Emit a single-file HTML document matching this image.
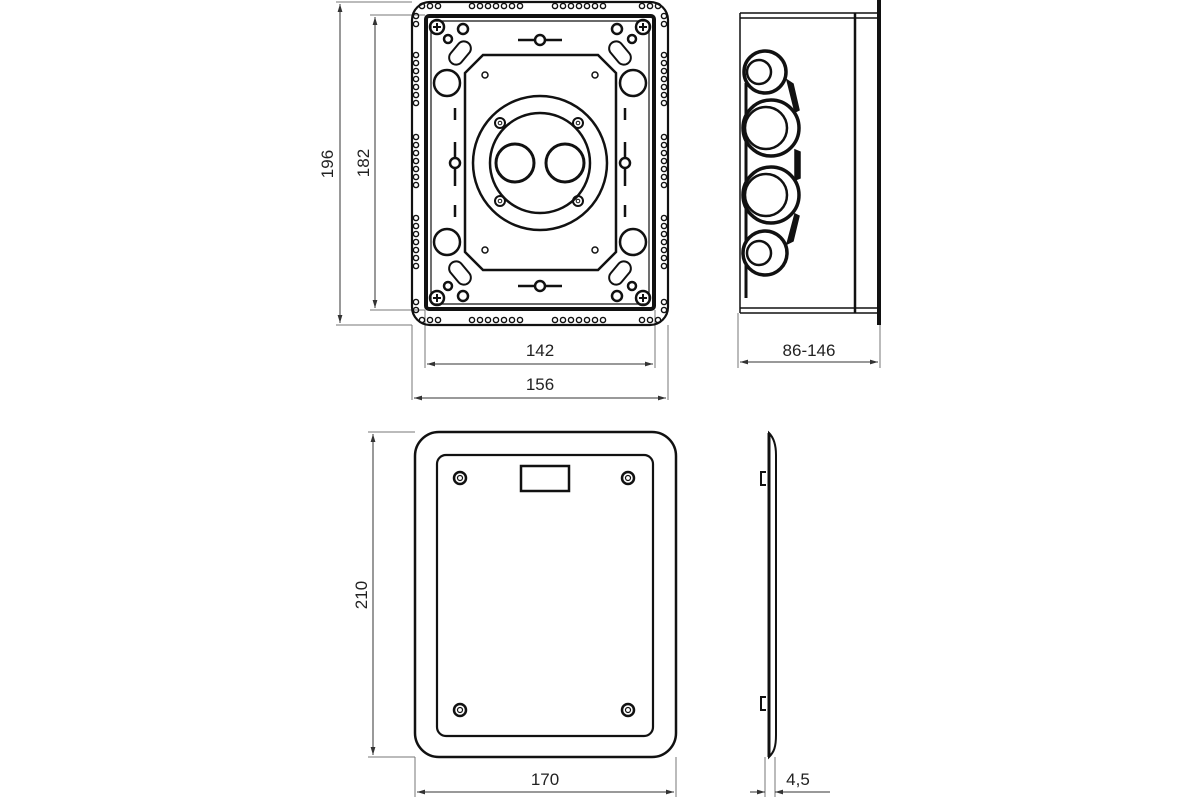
<!DOCTYPE html>
<html><head><meta charset="utf-8"><style>
html,body{margin:0;padding:0;background:#fff}
svg{display:block}
text{font-family:"Liberation Sans",sans-serif;font-size:17px;fill:#222}
</style></head><body>
<svg width="1200" height="800" viewBox="0 0 1200 800" xmlns="http://www.w3.org/2000/svg">
<defs>
<marker id="a" viewBox="0 0 10 10" refX="10" refY="5" markerWidth="8" markerHeight="8" orient="auto-start-reverse"><path d="M0,2 L10,5 L0,8z" fill="#333"/></marker>
<g id="h7" fill="none" stroke="#111" stroke-width="1.4"><circle cx="0" cy="0" r="2.6"/><circle cx="8" cy="0" r="2.6"/><circle cx="16" cy="0" r="2.6"/><circle cx="24" cy="0" r="2.6"/><circle cx="32" cy="0" r="2.6"/><circle cx="40" cy="0" r="2.6"/><circle cx="48" cy="0" r="2.6"/></g>
<g id="v7" fill="none" stroke="#111" stroke-width="1.4"><circle cx="0" cy="0" r="2.6"/><circle cx="0" cy="8" r="2.6"/><circle cx="0" cy="16" r="2.6"/><circle cx="0" cy="24" r="2.6"/><circle cx="0" cy="32" r="2.6"/><circle cx="0" cy="40" r="2.6"/><circle cx="0" cy="48" r="2.6"/></g>
<g id="scr"><circle r="7" fill="none" stroke="#111" stroke-width="2.5"/><path d="M-4,0h8M0,-4v8" stroke="#111" stroke-width="2"/></g>
</defs>

<!-- dimension lines -->
<g stroke="#777" stroke-width="1" fill="none">
<path d="M336,2h76M336,325h76M370,15h55M370,310h55"/>
<path d="M412,325v75M668,325v75M425,310v58M655,310v58M738,313v55M880,325v43"/>
<path d="M415,757v40M676,757v40M368,432h47M368,757h47M765,757v40M775,757v40"/>
</g>
<g stroke="#333" stroke-width="1" fill="none">
<line x1="340" y1="4" x2="340" y2="323" marker-start="url(#a)" marker-end="url(#a)"/>
<line x1="375" y1="17" x2="375" y2="308" marker-start="url(#a)" marker-end="url(#a)"/>
<line x1="427" y1="364" x2="653" y2="364" marker-start="url(#a)" marker-end="url(#a)"/>
<line x1="414" y1="398" x2="666" y2="398" marker-start="url(#a)" marker-end="url(#a)"/>
<line x1="740" y1="362" x2="878" y2="362" marker-start="url(#a)" marker-end="url(#a)"/>
<line x1="373" y1="434" x2="373" y2="755" marker-start="url(#a)" marker-end="url(#a)"/>
<line x1="417" y1="792" x2="674" y2="792" marker-start="url(#a)" marker-end="url(#a)"/>
<line x1="750" y1="792" x2="765" y2="792" marker-end="url(#a)"/>
<line x1="790" y1="792" x2="775" y2="792" marker-end="url(#a)"/>
<line x1="775" y1="792" x2="830" y2="792"/>
</g>
<text x="333" y="164" text-anchor="middle" transform="rotate(-90 333 164)">196</text>
<text x="369" y="163" text-anchor="middle" transform="rotate(-90 369 163)">182</text>
<text x="540" y="356" text-anchor="middle">142</text>
<text x="540" y="390" text-anchor="middle">156</text>
<text x="809" y="356" text-anchor="middle">86-146</text>
<text x="367" y="595" text-anchor="middle" transform="rotate(-90 367 595)">210</text>
<text x="545" y="785" text-anchor="middle">170</text>
<text x="798" y="785" text-anchor="middle">4,5</text>

<!-- top front view -->
<g fill="none" stroke="#111">
<rect x="412" y="2" width="256" height="323" rx="18" stroke-width="2.2"/>
<rect x="426" y="16" width="228" height="293" rx="3" stroke-width="4"/>
<rect x="431" y="21" width="218" height="283" rx="2" stroke-width="1.2"/>
<path d="M483,55H598L616,73V252L598,270H483L465,252V73Z" stroke-width="2.5"/>
<circle cx="540" cy="163" r="67" stroke-width="2.5"/>
<circle cx="540" cy="163" r="50" stroke-width="2.5"/>
<circle cx="515" cy="163" r="19" stroke-width="3"/>
<circle cx="565" cy="163" r="19" stroke-width="3"/>
<circle cx="500" cy="123" r="5" stroke-width="2"/><circle cx="500" cy="123" r="1.8" stroke-width="1"/>
<circle cx="578" cy="123" r="5" stroke-width="2"/><circle cx="578" cy="123" r="1.8" stroke-width="1"/>
<circle cx="500" cy="201" r="5" stroke-width="2"/><circle cx="500" cy="201" r="1.8" stroke-width="1"/>
<circle cx="578" cy="201" r="5" stroke-width="2"/><circle cx="578" cy="201" r="1.8" stroke-width="1"/>
<circle cx="485" cy="75" r="3" stroke-width="1.5"/><circle cx="595" cy="75" r="3" stroke-width="1.5"/>
<circle cx="485" cy="250" r="3" stroke-width="1.5"/><circle cx="595" cy="250" r="3" stroke-width="1.5"/>
<circle cx="447" cy="83" r="13" stroke-width="2.5"/><circle cx="633" cy="83" r="13" stroke-width="2.5"/>
<circle cx="447" cy="242" r="13" stroke-width="2.5"/><circle cx="633" cy="242" r="13" stroke-width="2.5"/>
<g stroke-width="2.5"><path d="M518,40h44M518,286h44M455,142v44M625,142v44M455,108v12M455,205v12M625,108v12M625,205v12"/></g>
<circle cx="540" cy="40" r="5" fill="#fff" stroke-width="2.5"/><circle cx="540" cy="286" r="5" fill="#fff" stroke-width="2.5"/>
<circle cx="455" cy="163" r="5" fill="#fff" stroke-width="2.5"/><circle cx="625" cy="163" r="5" fill="#fff" stroke-width="2.5"/>
<g stroke-width="2"><rect x="453" y="40" width="14" height="26" rx="7" transform="rotate(40 460 53)"/><rect x="613" y="40" width="14" height="26" rx="7" transform="rotate(-40 620 53)"/><rect x="453" y="260" width="14" height="26" rx="7" transform="rotate(-40 460 273)"/><rect x="613" y="260" width="14" height="26" rx="7" transform="rotate(40 620 273)"/></g>
<g stroke-width="2.5"><circle cx="463" cy="29" r="5"/><circle cx="617" cy="29" r="5"/><circle cx="463" cy="296" r="5"/><circle cx="617" cy="296" r="5"/><circle cx="448" cy="39" r="4"/><circle cx="632" cy="39" r="4"/><circle cx="448" cy="286" r="4"/><circle cx="632" cy="286" r="4"/></g>
</g>
<use href="#scr" x="437" y="27"/><use href="#scr" x="643" y="27"/><use href="#scr" x="437" y="298"/><use href="#scr" x="643" y="298"/>
<use href="#h7" x="472" y="6"/><use href="#h7" x="555" y="6"/><use href="#h7" x="472" y="320"/><use href="#h7" x="555" y="320"/>
<use href="#v7" x="416" y="55"/><use href="#v7" x="416" y="137"/><use href="#v7" x="416" y="218"/>
<use href="#v7" x="664" y="55"/><use href="#v7" x="664" y="137"/><use href="#v7" x="664" y="218"/>
<g fill="none" stroke="#111" stroke-width="1.4">
<circle cx="422" cy="6" r="2.6"/><circle cx="430" cy="6" r="2.6"/><circle cx="438" cy="6" r="2.6"/>
<circle cx="642" cy="6" r="2.6"/><circle cx="650" cy="6" r="2.6"/><circle cx="658" cy="6" r="2.6"/>
<circle cx="422" cy="320" r="2.6"/><circle cx="430" cy="320" r="2.6"/><circle cx="438" cy="320" r="2.6"/>
<circle cx="642" cy="320" r="2.6"/><circle cx="650" cy="320" r="2.6"/><circle cx="658" cy="320" r="2.6"/>
<circle cx="416" cy="16" r="2.6"/><circle cx="416" cy="24" r="2.6"/><circle cx="664" cy="16" r="2.6"/><circle cx="664" cy="24" r="2.6"/>
<circle cx="416" cy="302" r="2.6"/><circle cx="416" cy="310" r="2.6"/><circle cx="664" cy="302" r="2.6"/><circle cx="664" cy="310" r="2.6"/>
</g>

<!-- top side view -->
<g fill="none" stroke="#111">
<path d="M740,13H879M740,18H879M740,308H879M740,313H879" stroke-width="1.5"/>
<path d="M740,13V313" stroke-width="1.5"/>
<path d="M855,13V313" stroke-width="2.5"/>
<path d="M879,0V325" stroke-width="4"/>
<path d="M746,83V298" stroke-width="3"/>
<path d="M787,80L793,84L799,110L795,112Z" fill="#111" stroke-width="1.5"/>
<path d="M795,150L800,152L800,178L795,180Z" fill="#111" stroke-width="1.5"/>
<path d="M795,214L799,216L793,241L787,244Z" fill="#111" stroke-width="1.5"/>
<g stroke-width="3.5" fill="#fff">
<circle cx="765" cy="72" r="21"/><circle cx="771" cy="128" r="28"/><circle cx="771" cy="195" r="28"/><circle cx="765" cy="253" r="22"/>
</g>
<g stroke-width="2.5">
<circle cx="759" cy="72" r="12"/><circle cx="766" cy="128" r="21"/><circle cx="766" cy="195" r="21"/><circle cx="759" cy="253" r="12"/>
</g>
</g>

<!-- bottom cover -->
<g fill="none" stroke="#111">
<rect x="415" y="432" width="261" height="325" rx="24" stroke-width="2.5"/>
<rect x="437" y="455" width="216" height="281" rx="9" stroke-width="2.2"/>
<rect x="521" y="466" width="48" height="25" stroke-width="2.5"/>
<g stroke-width="2.5"><circle cx="460" cy="478" r="6"/><circle cx="628" cy="478" r="6"/><circle cx="460" cy="710" r="6"/><circle cx="628" cy="710" r="6"/></g>
<g stroke-width="1.2"><circle cx="460" cy="478" r="2.5"/><circle cx="628" cy="478" r="2.5"/><circle cx="460" cy="710" r="2.5"/><circle cx="628" cy="710" r="2.5"/></g>
<path d="M769,433C774,438 776,445 776,455V735C776,747 774,752 769,757Z" stroke-width="2" fill="#fff"/>
<path d="M769,433V757" stroke-width="3"/>
<path d="M766,472h-5v13h5M766,697h-5v13h5" stroke-width="2"/>
</g>
</svg>
</body></html>
